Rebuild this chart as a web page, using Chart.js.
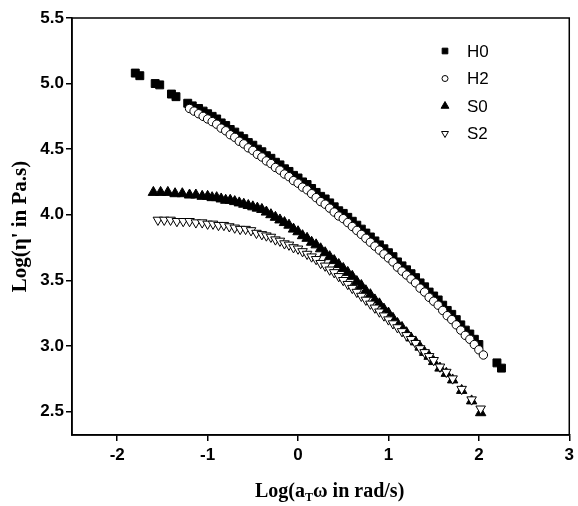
<!DOCTYPE html>
<html>
<head>
<meta charset="utf-8">
<script src="https://cdn.jsdelivr.net/npm/chart.js@4.4.1/dist/chart.umd.min.js"></script>
<style>
  html, body { margin: 0; padding: 0; background: #fff; }
  #wrap { width: 578px; height: 506px; }
</style>
</head>
<body>
<div id="wrap"><canvas id="viscChart" width="578" height="506"></canvas></div>
<script>
// tick values
const xTicks = [-2, -1, 0, 1, 2, 3];
const yTicks = [2.5, 3.0, 3.5, 4.0, 4.5, 5.0, 5.5];

// H0 - filled squares
const h0X = [-1.80, -1.75, -1.58, -1.53, -1.40, -1.35, -1.22, -1.17, -1.10, -1.05, -1.00, -0.95, -0.90, -0.85, -0.80, -0.75, -0.70, -0.65, -0.60, -0.55, -0.50, -0.45, -0.40, -0.35, -0.30, -0.25, -0.20, -0.15, -0.10, -0.05, 0.00, 0.05, 0.10, 0.15, 0.20, 0.25, 0.30, 0.35, 0.40, 0.45, 0.50, 0.55, 0.60, 0.65, 0.70, 0.75, 0.80, 0.85, 0.90, 0.95, 1.00, 1.05, 1.10, 1.15, 1.20, 1.25, 1.30, 1.35, 1.40, 1.45, 1.50, 1.55, 1.60, 1.65, 1.70, 1.75, 1.80, 1.85, 1.90, 1.95, 2.00, 2.20, 2.25];
const h0Y = [5.08, 5.06, 5.00, 4.99, 4.92, 4.90, 4.85, 4.83, 4.81, 4.79, 4.77, 4.75, 4.73, 4.70, 4.68, 4.65, 4.63, 4.60, 4.58, 4.55, 4.53, 4.50, 4.48, 4.45, 4.43, 4.40, 4.38, 4.35, 4.33, 4.30, 4.28, 4.25, 4.23, 4.20, 4.17, 4.14, 4.12, 4.09, 4.06, 4.03, 4.01, 3.98, 3.95, 3.92, 3.89, 3.86, 3.83, 3.80, 3.77, 3.74, 3.71, 3.68, 3.64, 3.61, 3.58, 3.55, 3.52, 3.48, 3.45, 3.41, 3.38, 3.35, 3.31, 3.27, 3.24, 3.20, 3.16, 3.12, 3.09, 3.05, 3.01, 2.87, 2.83];

// H2 - open circles
const h2X = [-1.20, -1.15, -1.10, -1.05, -1.00, -0.95, -0.90, -0.85, -0.80, -0.75, -0.70, -0.65, -0.60, -0.55, -0.50, -0.45, -0.40, -0.35, -0.30, -0.25, -0.20, -0.15, -0.10, -0.05, 0.00, 0.05, 0.10, 0.15, 0.20, 0.25, 0.30, 0.35, 0.40, 0.45, 0.50, 0.55, 0.60, 0.65, 0.70, 0.75, 0.80, 0.85, 0.90, 0.95, 1.00, 1.05, 1.10, 1.15, 1.20, 1.25, 1.30, 1.35, 1.40, 1.45, 1.50, 1.55, 1.60, 1.65, 1.70, 1.75, 1.80, 1.85, 1.90, 1.95, 2.00, 2.05];
const h2Y = [4.81, 4.79, 4.77, 4.75, 4.73, 4.71, 4.69, 4.66, 4.64, 4.61, 4.59, 4.56, 4.54, 4.51, 4.49, 4.46, 4.44, 4.41, 4.39, 4.36, 4.34, 4.31, 4.29, 4.26, 4.24, 4.21, 4.19, 4.16, 4.13, 4.10, 4.08, 4.05, 4.02, 3.99, 3.97, 3.94, 3.91, 3.88, 3.85, 3.82, 3.79, 3.76, 3.73, 3.70, 3.67, 3.64, 3.60, 3.57, 3.54, 3.51, 3.48, 3.44, 3.41, 3.37, 3.34, 3.31, 3.27, 3.23, 3.20, 3.16, 3.12, 3.08, 3.05, 3.01, 2.97, 2.93];

// S0 - filled triangles
const s0X = [-1.60, -1.52, -1.44, -1.36, -1.28, -1.20, -1.13, -1.06, -1.00, -0.95, -0.90, -0.85, -0.80, -0.75, -0.70, -0.65, -0.60, -0.55, -0.50, -0.45, -0.40, -0.35, -0.30, -0.25, -0.20, -0.15, -0.10, -0.05, 0.00, 0.05, 0.10, 0.15, 0.20, 0.25, 0.30, 0.35, 0.40, 0.45, 0.50, 0.55, 0.60, 0.65, 0.70, 0.75, 0.80, 0.85, 0.90, 0.95, 1.00, 1.05, 1.10, 1.15, 1.20, 1.25, 1.30, 1.35, 1.40, 1.45, 1.50, 1.57, 1.64, 1.71, 1.81, 1.92, 2.02];
const s0Y = [4.17, 4.17, 4.17, 4.16, 4.16, 4.15, 4.15, 4.14, 4.14, 4.13, 4.13, 4.12, 4.11, 4.11, 4.10, 4.09, 4.08, 4.07, 4.06, 4.05, 4.04, 4.02, 4.00, 3.98, 3.96, 3.94, 3.92, 3.89, 3.87, 3.84, 3.82, 3.79, 3.77, 3.74, 3.71, 3.68, 3.65, 3.62, 3.59, 3.56, 3.53, 3.49, 3.46, 3.42, 3.39, 3.35, 3.32, 3.28, 3.25, 3.21, 3.17, 3.14, 3.10, 3.06, 3.03, 2.99, 2.95, 2.92, 2.88, 2.83, 2.79, 2.74, 2.66, 2.58, 2.49];

// S2 - open down triangles
const s2X = [-1.55, -1.48, -1.41, -1.34, -1.27, -1.20, -1.13, -1.06, -1.00, -0.94, -0.88, -0.82, -0.76, -0.70, -0.64, -0.58, -0.52, -0.46, -0.40, -0.35, -0.30, -0.25, -0.20, -0.15, -0.10, -0.05, 0.00, 0.05, 0.10, 0.15, 0.20, 0.25, 0.30, 0.35, 0.40, 0.45, 0.50, 0.55, 0.60, 0.65, 0.70, 0.75, 0.80, 0.85, 0.90, 0.95, 1.00, 1.05, 1.10, 1.15, 1.20, 1.25, 1.30, 1.35, 1.40, 1.45, 1.50, 1.57, 1.64, 1.71, 1.81, 1.92, 2.02];
const s2Y = [3.96, 3.96, 3.96, 3.95, 3.95, 3.95, 3.94, 3.94, 3.93, 3.93, 3.92, 3.92, 3.91, 3.90, 3.89, 3.89, 3.88, 3.86, 3.85, 3.84, 3.83, 3.81, 3.80, 3.78, 3.77, 3.75, 3.74, 3.72, 3.70, 3.68, 3.66, 3.63, 3.61, 3.58, 3.56, 3.53, 3.50, 3.47, 3.44, 3.41, 3.38, 3.35, 3.32, 3.29, 3.26, 3.23, 3.20, 3.17, 3.14, 3.11, 3.08, 3.05, 3.02, 2.98, 2.95, 2.92, 2.89, 2.84, 2.80, 2.75, 2.67, 2.59, 2.52];

const toPoints = (xs, ys) => xs.map((x, i) => ({ x: x, y: ys[i] }));

// legend entries drawn by plugin
const legendItems = [
    { label: 'H0', style: 'rect', fill: '#000', rotation: 0, radius: 4 },
    { label: 'H2', style: 'circle', fill: '#fff', rotation: 0, radius: 3 },
    { label: 'S0', style: 'triangle', fill: '#000', rotation: 0, radius: 4.5 },
    { label: 'S2', style: 'triangle', fill: '#fff', rotation: 180, radius: 4 }
];

const frameAndText = {
    id: 'frameAndText',
    afterDraw(chart) {
        const ctx = chart.ctx;
        const a = chart.chartArea;
        ctx.save();

        // box around plot
        ctx.strokeStyle = '#000';
        ctx.lineWidth = 1.5;
        ctx.strokeRect(a.left, a.top, a.right - a.left, a.bottom - a.top);

        // legend
        ctx.font = '17px "Liberation Sans", Arial, sans-serif';
        ctx.textBaseline = 'middle';
        ctx.textAlign = 'left';
        legendItems.forEach((it, i) => {
            const y = 51 + i * 27.5;
            ctx.lineWidth = 1;
            ctx.strokeStyle = '#000';
            ctx.fillStyle = it.fill;
            Chart.helpers.drawPoint(ctx, { pointStyle: it.style, rotation: it.rotation, radius: it.radius, borderWidth: 1 }, 445, y);
            ctx.fillStyle = '#000';
            ctx.fillText(it.label, 467, y + 1);
        });

        // x axis title with subscript T
        const big = 'bold 20px "Liberation Serif", "Times New Roman", serif';
        const small = 'bold 12px "Liberation Serif", "Times New Roman", serif';
        const p1 = 'Log(a', p2 = 'T', p3 = '\u03c9 in rad/s)';
        ctx.font = big;
        const w1 = ctx.measureText(p1).width;
        const w3 = ctx.measureText(p3).width;
        ctx.font = small;
        const w2 = ctx.measureText(p2).width;
        const total = w1 + w2 + w3;
        const x0 = (a.left + a.right) / 2 + 9 - total / 2;
        const base = 497;
        ctx.textBaseline = 'alphabetic';
        ctx.fillStyle = '#000';
        ctx.font = big;
        ctx.fillText(p1, x0, base);
        ctx.font = small;
        ctx.fillText(p2, x0 + w1, base + 4);
        ctx.font = big;
        ctx.fillText(p3, x0 + w1 + w2, base);

        // y axis title
        ctx.translate(21, (a.top + a.bottom) / 2);
        ctx.rotate(-Math.PI / 2);
        ctx.textAlign = 'center';
        ctx.textBaseline = 'middle';
        ctx.font = 'bold 21px "Liberation Serif", "Times New Roman", serif';
        ctx.fillText('Log(\u03b7\' in Pa.s)', 0, 0);
        ctx.restore();
    }
};

document.addEventListener('DOMContentLoaded', () => {
    const ctx = document.getElementById('viscChart');

    const axisStyle = {
        grid: { drawOnChartArea: false, drawTicks: true, tickLength: 6, color: '#000', lineWidth: 1.5 },
        border: { display: true, color: '#000', width: 1.5 }
    };

    new Chart(ctx, {
        type: 'scatter',
        data: {
            datasets: [
                {
                    label: 'S2', data: toPoints(s2X, s2Y), order: 1,
                    pointStyle: 'triangle', rotation: 180, pointRadius: 5.5,
                    backgroundColor: '#fff', borderColor: '#000', borderWidth: 1
                },
                {
                    label: 'S0', data: toPoints(s0X, s0Y), order: 2,
                    pointStyle: 'triangle', pointRadius: 6,
                    backgroundColor: '#000', borderColor: '#000', borderWidth: 1
                },
                {
                    label: 'H2', data: toPoints(h2X, h2Y), order: 3,
                    pointStyle: 'circle', pointRadius: 4.2,
                    backgroundColor: '#fff', borderColor: '#000', borderWidth: 1
                },
                {
                    label: 'H0', data: toPoints(h0X, h0Y), order: 4,
                    pointStyle: 'rect', pointRadius: 5.6,
                    backgroundColor: '#000', borderColor: '#000', borderWidth: 1
                }
            ]
        },
        options: {
            responsive: false,
            devicePixelRatio: 1,
            animation: false,
            layout: { padding: { top: 18, right: 6, left: 0, bottom: 0 } },
            plugins: {
                legend: { display: false },
                tooltip: { enabled: false }
            },
            scales: {
                x: {
                    type: 'linear',
                    min: -2.5,
                    max: 3,
                    afterBuildTicks: (scale) => { scale.ticks = xTicks.map(v => ({ value: v })); },
                    afterFit: (scale) => { scale.height = 71; },
                    ticks: {
                        color: '#000',
                        padding: 4,
                        font: { family: '"Liberation Sans", Arial, sans-serif', size: 17, weight: 'bold' },
                        callback: (v) => String(v)
                    },
                    ...axisStyle
                },
                y: {
                    type: 'linear',
                    min: 2.32,
                    max: 5.5,
                    afterBuildTicks: (scale) => { scale.ticks = yTicks.map(v => ({ value: v })); },
                    afterFit: (scale) => { scale.width = 72; },
                    ticks: {
                        color: '#000',
                        padding: 2,
                        font: { family: '"Liberation Sans", Arial, sans-serif', size: 17, weight: 'bold' },
                        callback: (v) => Number(v).toFixed(1)
                    },
                    ...axisStyle
                }
            }
        },
        plugins: [frameAndText]
    });
});
</script>
</body>
</html>
